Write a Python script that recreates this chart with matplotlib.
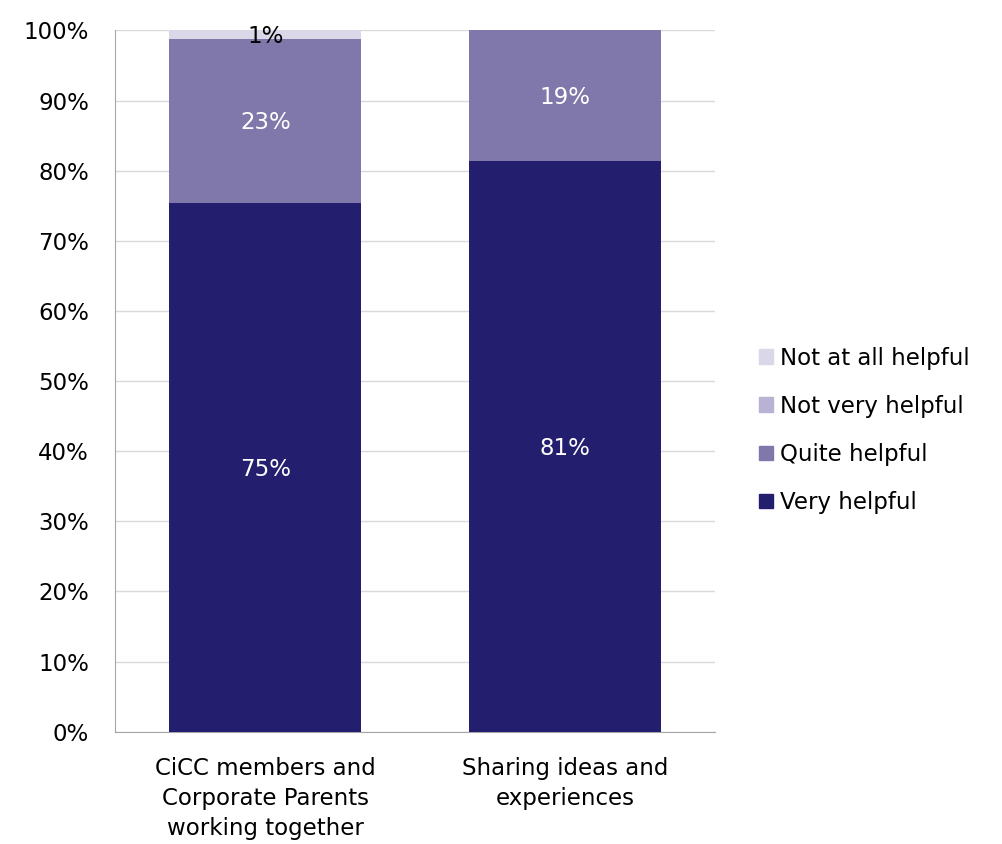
import numpy as np
import matplotlib.pyplot as plt
from matplotlib.patches import Patch

plt.rcParams['font.family'] = ['DejaVu Sans']
plt.rcParams['font.size'] = 16.5

# --- data --- #
categories = ['CiCC members and\nCorporate Parents\nworking together',
              'Sharing ideas and\nexperiences']
series = ['Very helpful', 'Quite helpful', 'Not very helpful', 'Not at all helpful']
very_helpful = [75.4, 81.4]
quite_helpful = [23.4, 18.6]
not_very_helpful = [0.0, 0.0]
not_at_all_helpful = [1.2, 0.0]
colors = ['#231F6E', '#8077AA', '#B9B2D4', '#DAD7E8']
label_colors = ['white', 'white', 'black', 'black']
# --- end data --- #

values = [very_helpful, quite_helpful, not_very_helpful, not_at_all_helpful]

fig = plt.figure(figsize=(10.03, 8.44), dpi=100)
ax = fig.add_axes([0.115, 0.133, 0.598, 0.831])

x = np.arange(len(categories))
bottom = np.zeros(len(categories))
for name, vals, col, lc in zip(series, values, colors, label_colors):
    vals = np.array(vals)
    ax.bar(x, vals, width=0.64, bottom=bottom, color=col, label=name, zorder=3)
    for xi, b, v in zip(x, bottom, vals):
        if v > 0.5:
            ax.text(xi, b + v / 2 - 0.3, f'{round(v):.0f}%', ha='center', va='center',
                    color=lc, fontsize=16.5, zorder=4)
    bottom += vals

ax.set_xlim(-0.5, 1.5)
ax.set_ylim(0, 100)
ax.set_yticks(np.arange(0, 101, 10))
ax.set_yticklabels([f'{t}%' for t in range(0, 101, 10)])
ax.set_xticks(x)
ax.set_xticklabels(categories, linespacing=1.4)
ax.yaxis.grid(True, color='#D9D9D9', linewidth=1, zorder=0)
ax.tick_params(axis='x', length=0, pad=18)
ax.tick_params(axis='y', length=0, pad=19)
for s in ['top', 'right']:
    ax.spines[s].set_visible(False)
ax.spines['left'].set_color('#A6A6A6')
ax.spines['bottom'].set_color('#A6A6A6')

handles = [Patch(color=c, label=n) for c, n in zip(colors, series)][::-1]
fig.legend(handles=handles, loc='center left', bbox_to_anchor=(0.757, 0.49),
           frameon=False, handlelength=0.6, handleheight=0.6, handletextpad=0.3,
           labelspacing=1.1, borderpad=0, borderaxespad=0, fontsize=16.5)

plt.savefig('out.png', dpi=100)
